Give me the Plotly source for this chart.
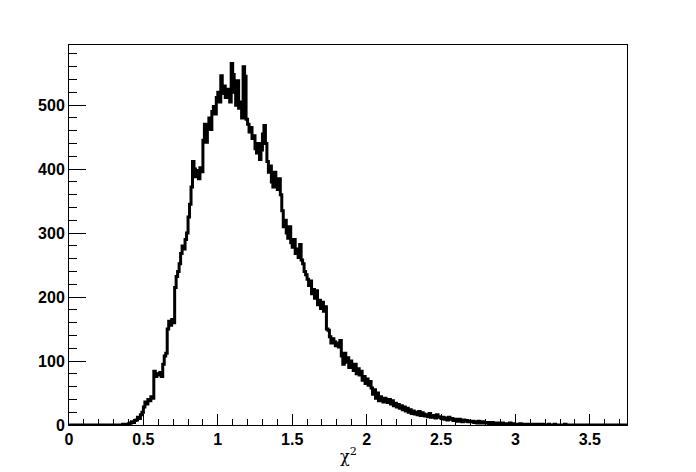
import numpy as np
import plotly.graph_objects as go

# Histogram of chi^2 values: 375 bins of width 0.01 from 0 to 3.75
bin_width = 0.01
x_min = 0.0
x_max = 3.75

counts_000_030 = [0] * 30
counts_030_040 = [0, 0, 0, 0, 0, 0, 1, 0, 1, 1]
counts_040_050 = [2, 3, 5, 4, 7, 8, 12, 10, 16, 20]
counts_050_060 = [28, 36, 33, 40, 38, 44, 42, 84, 76, 80]
counts_060_070 = [78, 82, 76, 95, 108, 112, 150, 162, 156, 165]
counts_070_080 = [160, 215, 232, 240, 252, 268, 280, 275, 290, 300]
counts_080_090 = [325, 345, 372, 412, 400, 388, 398, 385, 402, 396]
counts_090_100 = [445, 470, 442, 468, 480, 462, 490, 498, 486, 512]
counts_100_110 = [520, 505, 546, 518, 530, 512, 525, 515, 505, 565]
counts_110_120 = [548, 520, 500, 538, 495, 505, 480, 560, 545, 478]
counts_120_130 = [470, 458, 465, 448, 452, 432, 425, 440, 415, 430]
counts_130_140 = [455, 468, 440, 412, 395, 405, 380, 372, 395, 372]
counts_140_150 = [368, 385, 360, 335, 310, 320, 300, 292, 310, 285]
counts_150_160 = [278, 290, 268, 275, 262, 282, 258, 252, 240, 235]
counts_160_170 = [228, 218, 225, 205, 212, 198, 210, 188, 195, 182]
counts_170_180 = [192, 178, 185, 150, 148, 138, 128, 135, 130, 124]
counts_180_190 = [128, 122, 132, 108, 95, 112, 98, 105, 90, 100]
counts_190_200 = [92, 85, 95, 80, 88, 78, 84, 70, 76, 65]
counts_200_210 = [72, 62, 68, 58, 48, 55, 42, 50, 38, 44]
counts_210_220 = [40, 36, 42, 38, 35, 40, 33, 38, 30, 34]
counts_220_230 = [28, 32, 26, 30, 24, 28, 22, 26, 20, 24]
counts_230_240 = [18, 22, 17, 20, 16, 21, 15, 19, 17, 14]
counts_240_250 = [16, 13, 18, 12, 15, 14, 11, 16, 13, 12]
counts_250_260 = [10, 12, 9, 11, 8, 12, 9, 10, 7, 9]
counts_260_270 = [8, 6, 9, 7, 5, 8, 6, 7, 5, 6]
counts_270_280 = [5, 6, 4, 5, 3, 6, 4, 3, 5, 4]
counts_280_290 = [3, 4, 2, 3, 4, 2, 3, 2, 3, 1]
counts_290_300 = [2, 3, 1, 2, 2, 1, 3, 1, 2, 1]
counts_300_310 = [1, 1, 0, 2, 1, 0, 1, 1, 0, 1]
counts_310_320 = [0, 1, 1, 0, 0, 1, 0, 0, 1, 0]
counts_320_330 = [0, 0, 1, 0, 0, 0, 1, 0, 0, 0]
counts_330_340 = [0, 0, 0, 1, 0, 0, 0, 0, 0, 0]
counts_340_375 = [0] * 35

counts = (counts_000_030 + counts_030_040 + counts_040_050 + counts_050_060 +
          counts_060_070 + counts_070_080 + counts_080_090 + counts_090_100 +
          counts_100_110 + counts_110_120 + counts_120_130 + counts_130_140 +
          counts_140_150 + counts_150_160 + counts_160_170 + counts_170_180 +
          counts_180_190 + counts_190_200 + counts_200_210 + counts_210_220 +
          counts_220_230 + counts_230_240 + counts_240_250 + counts_250_260 +
          counts_260_270 + counts_270_280 + counts_280_290 + counts_290_300 +
          counts_300_310 + counts_310_320 + counts_320_330 + counts_330_340 +
          counts_340_375)

n_bins = len(counts)
edges = [x_min + i * bin_width for i in range(n_bins + 1)]
step_x = edges
step_y = counts + [counts[-1]]

x_tickvals = [0, 0.5, 1, 1.5, 2, 2.5, 3, 3.5]
x_ticktext = ["0", "0.5", "1", "1.5", "2", "2.5", "3", "3.5"]
y_tickvals = [0, 100, 200, 300, 400, 500]
y_ticktext = ["0", "100", "200", "300", "400", "500"]
x_title = "χ<sup>2</sup>"

fig = go.Figure()
fig.add_trace(go.Scatter(
    x=step_x, y=step_y, mode="lines",
    line=dict(color="black", width=3, shape="hv"),
    cliponaxis=False, showlegend=False, hoverinfo="skip",
))

tickfont = dict(family="Liberation Sans", size=16, color="black", weight="bold")

fig.update_layout(
    width=696, height=472,
    margin=dict(l=69, r=69, t=45, b=47),
    paper_bgcolor="white", plot_bgcolor="white",
    showlegend=False,
    xaxis=dict(
        range=[x_min, x_max], tickvals=x_tickvals, ticktext=x_ticktext,
        ticks="inside", ticklen=11, tickwidth=1, tickcolor="black",
        minor=dict(ticks="inside", dtick=0.1, tick0=0, ticklen=6, tickwidth=1, tickcolor="black"),
        showline=True, linecolor="black", linewidth=1, mirror=True,
        showgrid=False, zeroline=False, tickfont=tickfont, automargin=False,
    ),
    yaxis=dict(
        range=[0, 594], tickvals=y_tickvals, ticktext=y_ticktext,
        ticks="inside", ticklen=17, tickwidth=1, tickcolor="black",
        minor=dict(ticks="inside", dtick=20, tick0=0, ticklen=8, tickwidth=1, tickcolor="black"),
        showline=True, linecolor="black", linewidth=1, mirror=True,
        showgrid=False, zeroline=False, tickfont=tickfont, automargin=False,
    ),
    annotations=[dict(
        text=x_title, xref="paper", yref="paper", x=0.5, y=-0.079,
        xanchor="center", yanchor="middle", showarrow=False,
        font=dict(family="DejaVu Serif", size=16, color="black"),
    )],
)

fig.write_html(
    "out.html",
    config={"displayModeBar": False, "staticPlot": True},
    post_script="document.body.style.margin='0';document.body.style.padding='0';",
)
